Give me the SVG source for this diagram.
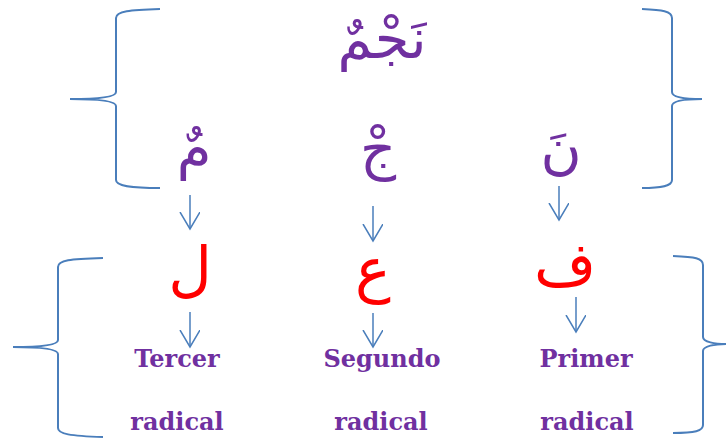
<svg xmlns="http://www.w3.org/2000/svg" width="726" height="439" viewBox="0 0 726 439">
<style>
.br{fill:none;stroke:#4A7EBB;stroke-width:2}
.ar{stroke:#4A7EBB;stroke-width:1.5;fill:none}
.pa{font-family:"DejaVu Sans",sans-serif;fill:#7030A0;text-anchor:middle}
.ra{font-family:"DejaVu Sans",sans-serif;fill:#FF0000;text-anchor:middle}
.lb{font-family:"DejaVu Serif",serif;font-weight:bold;font-size:24px;fill:#7030A0;text-anchor:middle}
</style>
<defs>
<marker id="v" markerUnits="userSpaceOnUse" markerWidth="20" markerHeight="22" refX="17" refY="10" orient="auto" viewBox="0 0 20 22">
<path d="M0,0 L17,10 L0,20" fill="none" stroke="#4A7EBB" stroke-width="1.5"/>
</marker>
</defs>
<g id="braces">
<path class="br" d="M160,9 C130,10 116,11 116,18 L116,92 C116,97 100,99 70,99 C100,99 116,101 116,106 L116,180 C116,186 130,188 160,188"/>
<path class="br" d="M642,9 C662,10 672,11 672,18 L672,92 C672,97 685,99 702,99 C685,99 672,101 672,106 L672,180 C672,186 662,188 642,188"/>
<path class="br" d="M103,258 C70,259 58,260 58,267 L58,340 C58,345 40,347 13,347 C40,347 58,349 58,354 L58,428 C58,434 70,436 103,437"/>
<path class="br" d="M673,256 C695,257 703,258 703,265 L703,337 C703,342 715,344 726,344 C715,344 703,346 703,351 L703,425 C703,431 695,433 673,433"/>
</g>
<g id="word"><text class="pa" x="382" y="58" font-size="56">نَجْمٌ</text></g>
<g id="meem"><text class="pa" x="194" y="168" font-size="56">مٌ</text></g>
<g id="jeem"><text class="pa" x="378" y="168" font-size="56">جْ</text></g>
<g id="noon"><text class="pa" x="561" y="168" font-size="56">نَ</text></g>
<g id="lam"><text class="ra" x="190" y="290" font-size="60">ل</text></g>
<g id="ain"><text class="ra" x="373" y="290" font-size="60">ع</text></g>
<g id="fa"><text class="ra" x="565" y="285" font-size="60">ف</text></g>
<g id="tercer"><text class="lb" x="177" y="367">Tercer</text><text class="lb" x="177" y="430">radical</text></g>
<g id="segundo"><text class="lb" x="382" y="367">Segundo</text><text class="lb" x="381" y="430">radical</text></g>
<g id="primer"><text class="lb" x="586" y="367">Primer</text><text class="lb" x="587" y="430">radical</text></g>
<g id="connectors">
<line class="ar" x1="190" y1="195" x2="190" y2="229" marker-end="url(#v)"/>
<line class="ar" x1="190" y1="312" x2="190" y2="347" marker-end="url(#v)"/>
<line class="ar" x1="373" y1="206" x2="373" y2="241" marker-end="url(#v)"/>
<line class="ar" x1="373" y1="313" x2="373" y2="347" marker-end="url(#v)"/>
<line class="ar" x1="559" y1="186" x2="559" y2="220" marker-end="url(#v)"/>
<line class="ar" x1="576" y1="297" x2="576" y2="332" marker-end="url(#v)"/>
</g>
</svg>
